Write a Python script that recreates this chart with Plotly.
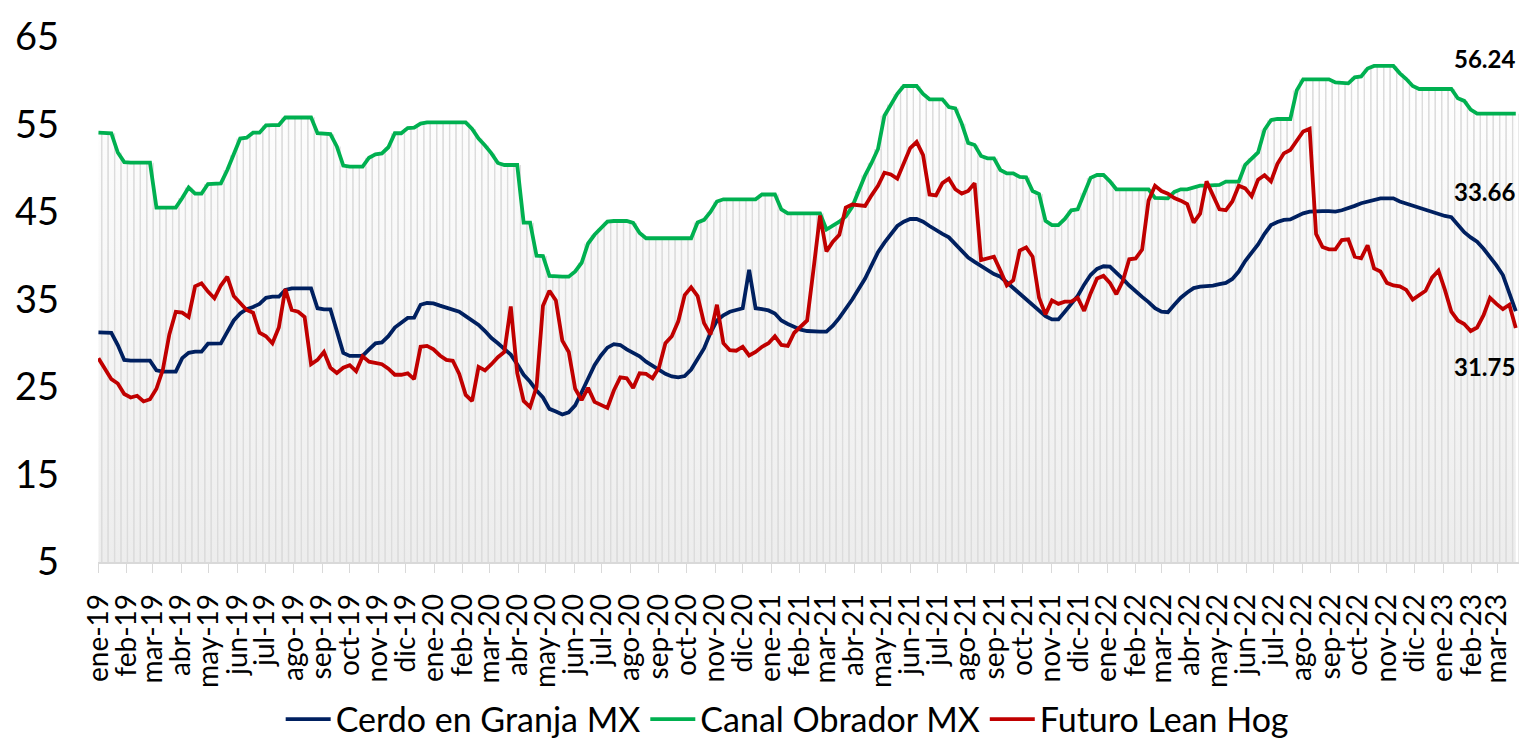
import pandas as pd
import plotly.graph_objects as go

# ---------------- data (weekly) ----------------
start_date = "2019-01-01"

cerdo_granja = [
    31.25, 31.25, 31.2, 29.8, 28.1, 28.01, 28.01, 28.01, 28.01, 26.9,
    26.75, 26.75, 26.75, 28.3, 28.9, 29.04, 29.04, 29.95, 29.99, 29.99,
    31.3, 32.6, 33.4, 33.9, 34.15, 34.5, 35.2, 35.32, 35.32, 36.1,
    36.28, 36.28, 36.28, 36.28, 34.0, 33.88, 33.88, 31.5, 28.9, 28.55,
    28.55, 28.55, 29.3, 30.0, 30.1,
    30.8, 31.8, 32.4, 32.9, 32.92, 34.4, 34.6, 34.56, 34.3, 34.05,
    33.9, 33.6, 33.1, 32.6, 32.1, 31.4, 30.6, 30.0, 29.4, 28.7,
    27.6, 26.4, 25.6, 24.6, 23.8, 22.5, 22.2, 21.85, 22.1, 22.9,
    24.4, 26.0, 27.5, 28.6, 29.5, 29.9, 29.8, 29.3, 28.9, 28.5,
    27.9, 27.4, 27.0, 26.5,
    26.2, 26.1, 26.25, 27.0, 28.2, 29.4, 31.2, 32.6, 33.2, 33.6,
    33.8, 34.0, 38.4, 34.0, 33.9, 33.75, 33.4, 32.6, 32.2, 31.85,
    31.55, 31.4, 31.33, 31.32, 31.32, 32.0, 32.9, 33.9, 35.0, 36.2,
    37.4, 38.9, 40.4, 41.5, 42.5, 43.4, 43.9, 44.2, 44.2, 43.9,
    43.4, 42.9, 42.5, 42.1, 41.3,
    40.6, 39.8, 39.3, 38.8, 38.35, 37.9, 37.6, 36.95, 36.3, 35.6,
    35.0, 34.4, 33.7, 33.1, 32.73, 32.73, 33.6, 34.5, 35.4, 36.7,
    37.8, 38.5, 38.8, 38.75, 38.1, 37.35, 36.6, 35.9, 35.3, 34.7,
    34.0, 33.6, 33.55, 34.4, 35.2, 35.8, 36.3, 36.47, 36.5, 36.58,
    36.75, 36.9, 37.35, 38.2,
    39.4, 40.4, 41.3, 42.5, 43.5, 43.85, 44.1, 44.16, 44.5, 44.85,
    45.05, 45.11, 45.11, 45.11, 45.05, 45.2, 45.4, 45.7, 46.0, 46.2,
    46.45, 46.56, 46.56, 46.56, 46.2, 45.95, 45.7, 45.45, 45.2, 44.95,
    44.7, 44.55, 44.4, 43.6, 42.7, 42.1, 41.6, 40.8, 39.9, 38.9,
    37.8, 35.6, 33.66,
]

canal_obrador = [
    54.07, 54.07, 54.0, 51.8, 50.7, 50.64, 50.64, 50.64, 50.64, 45.5,
    45.5, 45.5, 45.5, 46.6, 47.8, 47.1, 47.1, 48.2, 48.28, 48.28,
    49.8, 51.5, 53.4, 53.5, 54.07, 54.07, 54.9, 54.94, 54.94, 55.8,
    55.82, 55.82, 55.82, 55.82, 54.0, 53.9, 53.9, 52.5, 50.3, 50.18,
    50.18, 50.18, 51.2, 51.6, 51.7,
    52.4, 54.0, 54.0, 54.6, 54.64, 55.1, 55.25, 55.25, 55.25, 55.25,
    55.25, 55.25, 55.25, 54.5, 53.4, 52.6, 51.7, 50.6, 50.37, 50.37,
    50.37, 43.78, 43.78, 40.0, 39.97, 37.7, 37.61, 37.61, 37.61, 38.2,
    39.2, 41.4, 42.4, 43.1, 43.9, 43.97, 43.97, 43.97, 43.75, 42.6,
    42.0, 42.0, 42.0, 42.0,
    42.0, 42.0, 42.0, 42.0, 43.8, 44.1, 45.0, 46.2, 46.45, 46.45,
    46.45, 46.45, 46.45, 46.45, 47.0, 47.02, 47.02, 45.3, 44.85, 44.85,
    44.85, 44.85, 44.85, 44.85, 43.0, 43.4, 43.9, 44.5, 45.6, 47.4,
    49.2, 50.6, 52.2, 56.0, 57.3, 58.5, 59.4, 59.4, 59.4, 58.5,
    57.88, 57.88, 57.88, 57.0, 56.85,
    55.1, 52.9, 52.66, 51.4, 51.13, 51.13, 49.8, 49.42, 49.42, 49.0,
    48.96, 47.4, 47.06, 44.0, 43.51, 43.51, 44.2, 45.2, 45.31, 47.2,
    48.9, 49.23, 49.23, 48.5, 47.6, 47.59, 47.59, 47.59, 47.59, 47.59,
    46.6, 46.56, 46.56, 47.3, 47.59, 47.59, 47.8, 48.01, 48.01, 48.01,
    48.1, 48.47, 48.47, 48.47,
    50.4, 51.13, 51.8, 54.4, 55.5, 55.63, 55.63, 55.63, 58.9, 60.16,
    60.16, 60.16, 60.16, 60.16, 59.8, 59.71, 59.71, 60.4, 60.5, 61.4,
    61.69, 61.69, 61.69, 61.69, 60.85, 60.2, 59.4, 59.06, 59.06, 59.06,
    59.06, 59.06, 59.06, 58.0, 57.7, 56.7, 56.24, 56.24, 56.24, 56.24,
    56.24, 56.24, 56.24,
]

futuro_lean_hog = [
    28.28, 27.1, 25.9, 25.4, 24.2, 23.8, 24.0, 23.35, 23.6, 24.8,
    27.0, 31.0, 33.6, 33.5, 33.0, 36.5, 36.85, 35.9, 35.13, 36.6,
    37.6, 35.4, 34.6, 33.8, 33.5, 31.2, 30.8, 30.0, 31.8, 36.2,
    33.8, 33.6, 33.0, 27.6, 28.1, 29.0, 27.2, 26.6, 27.2, 27.5,
    26.8, 28.5, 27.9, 27.7, 27.6,
    27.1, 26.4, 26.4, 26.56, 25.9, 29.6, 29.7, 29.3, 28.6, 28.1,
    28.0, 26.5, 24.1, 23.4, 27.3, 26.9, 27.6, 28.4, 29.0, 34.2,
    26.6, 23.4, 22.7, 25.0, 34.3, 36.0, 34.9, 30.3, 29.0, 24.8,
    23.5, 24.9, 23.3, 23.0, 22.6, 24.6, 26.1, 26.0, 24.9, 26.56,
    26.5, 26.0, 27.2, 30.0,
    30.8, 32.5, 35.5, 36.4, 35.4, 32.3, 31.0, 34.4, 30.0, 29.2,
    29.15, 29.6, 28.6, 29.0, 29.6, 30.0, 30.8, 29.8, 29.7, 31.2,
    31.9, 32.6, 38.5, 44.6, 40.5, 41.6, 42.4, 45.5, 45.85, 45.8,
    45.7, 46.9, 48.0, 49.5, 49.3, 48.8, 50.5, 52.3, 53.0, 51.5,
    47.0, 46.9, 48.3, 48.8, 47.6,
    47.1, 47.4, 48.3, 39.5, 39.7, 39.9, 38.3, 36.6, 37.2, 40.6,
    40.96, 39.9, 35.2, 33.3, 34.9, 34.5, 34.75, 34.75, 35.2, 33.7,
    35.7, 37.4, 37.7, 36.9, 35.6, 37.1, 39.6, 39.7, 40.7, 46.3,
    48.0, 47.4, 47.1, 46.6, 46.3, 45.9, 43.8, 44.8, 48.5, 47.0,
    45.3, 45.2, 46.2, 48.0,
    47.7, 46.8, 48.7, 49.2, 48.5, 50.5, 51.7, 52.08, 53.1, 54.2,
    54.5, 42.5, 41.0, 40.73, 40.73, 41.8, 41.88, 39.9, 39.71, 41.2,
    38.56, 38.2, 36.9, 36.6, 36.5, 36.1, 35.0, 35.5, 36.0, 37.5,
    38.3, 36.1, 33.6, 32.6, 32.2, 31.4, 31.8, 33.2, 35.2, 34.5,
    33.9, 34.4, 31.75,
]

series_names = ["Cerdo en Granja MX", "Canal Obrador MX", "Futuro Lean Hog"]
series_colors = ["#002060", "#00B050", "#C00000"]

month_abbr = ["ene", "feb", "mar", "abr", "may", "jun",
              "jul", "ago", "sep", "oct", "nov", "dic"]
first_month = "2019-01-01"
last_month = "2023-03-01"

y_ticks = [5, 15, 25, 35, 45, 55, 65]

# ---------------- build figure ----------------
n = len(canal_obrador)
dates = pd.date_range(start_date, periods=n, freq="7D")
months = pd.date_range(first_month, last_month, freq="MS")
tick_text = [f"{month_abbr[d.month - 1]}-{d.strftime('%y')}" for d in months]

FONT = "Lato"
half_week = pd.Timedelta(days=3.5)

fig = go.Figure()

# gradient area under the Canal Obrador series (weekly columns)
fig.add_trace(go.Scatter(
    x=dates, y=canal_obrador, mode="lines", line=dict(width=0),
    fill="tozeroy",
    fillgradient=dict(type="vertical", start=5, stop=62,
                      colorscale=[[0, "#ededed"], [1, "#ffffff"]]),
    showlegend=False, hoverinfo="skip",
))

# column borders: one thin vertical stripe at each weekly column edge
sx, sy = [], []
for d, v in zip(dates, canal_obrador):
    for edge in (d - half_week, d + half_week):
        sx += [edge, edge, None]
        sy += [0, v, None]
fig.add_trace(go.Scatter(
    x=sx, y=sy, mode="lines", line=dict(color="#dcdcdc", width=1.2),
    showlegend=False, hoverinfo="skip",
))

for name, vals, col in zip(series_names,
                           [cerdo_granja, canal_obrador, futuro_lean_hog],
                           series_colors):
    fig.add_trace(go.Scatter(
        x=dates, y=vals, mode="lines", name=name,
        line=dict(color=col, width=3.8),
    ))

# end-value labels
label_offsets = [120, 55, -39]
for vals, dy in zip([cerdo_granja, canal_obrador, futuro_lean_hog], label_offsets):
    fig.add_annotation(
        x=dates[-1], y=vals[-1], text=f"<b>{vals[-1]:.2f}</b>",
        showarrow=False, xanchor="center", yanchor="middle",
        xshift=-31, yshift=dy,
        font=dict(family=FONT, size=24, color="#000000"),
    )

fig.update_layout(
    width=1522, height=744,
    margin=dict(l=98, r=3, t=37, b=182, autoexpand=False),
    paper_bgcolor="white", plot_bgcolor="white",
    font=dict(family=FONT, color="#000000"),
    showlegend=True,
    legend=dict(orientation="h", x=0.485, xanchor="center", y=-0.30,
                yanchor="middle", font=dict(family=FONT, size=34, color="#000000"),
                itemwidth=45, tracegroupgap=0, bgcolor="rgba(0,0,0,0)"),
)

fig.update_xaxes(
    type="date", automargin=False,
    range=[dates[0] - pd.Timedelta(hours=12), dates[-1] + half_week],
    tickmode="array", tickvals=months, ticktext=tick_text,
    tickangle=-90, tickfont=dict(family=FONT, size=28, color="#000000"),
    ticks="outside", ticklen=9, tickcolor="#d9d9d9", tickwidth=1.2,
    showline=True, linecolor="#d9d9d9", linewidth=1.5,
    showgrid=False, zeroline=False, ticklabelstandoff=10,
)
fig.update_yaxes(
    range=[5, 65], tickmode="array", tickvals=y_ticks, automargin=False,
    tickfont=dict(family=FONT, size=38, color="#000000"),
    ticks="", showline=False, showgrid=False, zeroline=False,
    ticklabelstandoff=38,
)

fig.write_html(
    "out.html",
    config={"displayModeBar": False},
    post_script="document.body.style.margin='0';document.body.style.overflow='hidden';",
)
